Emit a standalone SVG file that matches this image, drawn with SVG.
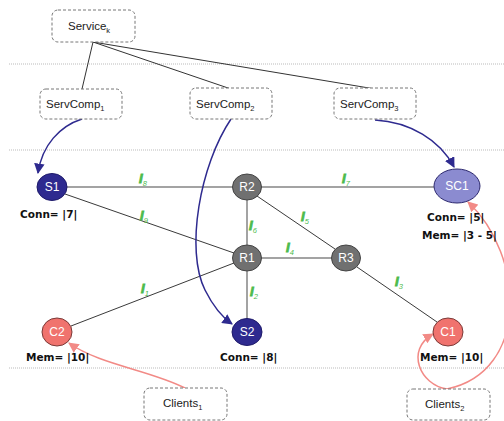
<svg xmlns="http://www.w3.org/2000/svg" width="504" height="421" viewBox="0 0 504 421">
<style>
.box{fill:#fff;stroke:#777;stroke-width:1;stroke-dasharray:3,2}
.bt{font-family:"Liberation Sans",Arial,sans-serif;font-size:11.5px;fill:#222}
.sub{font-size:7.5px}
.div{stroke:#bbb;stroke-width:1;stroke-dasharray:1,1}
.thick{stroke:#a3a3a3;stroke-width:2;fill:none}
.thin{stroke:#3a3a3a;stroke-width:1;fill:none}
.tree{stroke:#333;stroke-width:1;fill:none}
.blue{stroke:#2e2a8f;stroke-width:1.5;fill:none}
.pink{stroke:#f28a86;stroke-width:1.5;fill:none}
.nt{font-family:"Liberation Sans",Arial,sans-serif;font-size:12px;fill:#fff;text-anchor:middle}
.lab{font-family:"DejaVu Sans",Verdana,sans-serif;font-size:10.5px;font-weight:bold;fill:#111}
.ll{font-family:"Liberation Sans",Arial,sans-serif;font-size:13px;font-weight:bold;font-style:italic;fill:#4cbb4c;stroke:#4cbb4c;stroke-width:0.9}
.ls{font-size:7.5px;font-weight:normal;stroke:none}
</style>
<defs>
<marker id="ab" viewBox="0 0 10 10" refX="9" refY="5" markerWidth="7" markerHeight="7" orient="auto"><path d="M0,0L10,5L0,10z" fill="#2e2a8f"/></marker>
<marker id="ap" viewBox="0 0 10 10" refX="9" refY="5" markerWidth="7" markerHeight="7" orient="auto"><path d="M0,0L10,5L0,10z" fill="#f28a86"/></marker>
</defs>
<g id="dividers">
<line class="div" x1="9" y1="64" x2="504" y2="64"/>
<line class="div" x1="9" y1="150" x2="504" y2="150"/>
<line class="div" x1="9" y1="368" x2="504" y2="368"/>
</g>
<g id="connectors">
<line class="tree" x1="93" y1="42" x2="82" y2="89"/>
<line class="tree" x1="93" y1="42" x2="231" y2="89"/>
<line class="tree" x1="93" y1="42" x2="375" y2="89"/>
<line class="thick" x1="67" y1="187" x2="233" y2="187"/>
<line class="thick" x1="261" y1="187" x2="434" y2="187"/>
<line class="thick" x1="247" y1="200" x2="247" y2="245"/>
<line class="thick" x1="261" y1="258" x2="332" y2="258"/>
<line class="thick" x1="247" y1="271" x2="247" y2="319"/>
<line class="thin" x1="65" y1="194" x2="234" y2="253"/>
<line class="thin" x1="257" y1="196" x2="335" y2="249"/>
<line class="thin" x1="234" y1="263" x2="71" y2="326"/>
<line class="thin" x1="357" y1="267" x2="437" y2="322"/>
<path class="blue" d="M82,119 C60,126 42,145 38,173" marker-end="url(#ab)"/>
<path class="blue" d="M231,119 C200,165 185,250 205,290 C213,306 222,317 232,324" marker-end="url(#ab)"/>
<path class="blue" d="M375,120 C410,122 440,140 454,167" marker-end="url(#ab)"/>
<path class="pink" d="M185,388 C150,370 100,365 69,343" marker-end="url(#ap)"/>
<path class="pink" d="M447,389 C420,385 405,350 433,334" marker-end="url(#ap)"/>
<path class="pink" d="M447,389 C530,372 525,255 468,202" marker-end="url(#ap)"/>
</g>
<g id="links-labels">
<text class="ll" x="139" y="183">l<tspan class="ls" dy="3">8</tspan></text>
<text class="ll" x="140" y="220">l<tspan class="ls" dy="3">9</tspan></text>
<text class="ll" x="249" y="230">l<tspan class="ls" dy="3">6</tspan></text>
<text class="ll" x="342" y="183">l<tspan class="ls" dy="3">7</tspan></text>
<text class="ll" x="301" y="221">l<tspan class="ls" dy="3">5</tspan></text>
<text class="ll" x="286" y="252">l<tspan class="ls" dy="3">4</tspan></text>
<text class="ll" x="395" y="286">l<tspan class="ls" dy="3">3</tspan></text>
<text class="ll" x="141" y="293">l<tspan class="ls" dy="3">1</tspan></text>
<text class="ll" x="250" y="296">l<tspan class="ls" dy="3">2</tspan></text>
</g>
<g id="service-k"><rect class="box" x="52" y="10" width="83" height="32" rx="6"/><text class="bt" x="68" y="30">Service<tspan class="sub" dy="3">k</tspan></text></g>
<g id="servcomp1"><rect class="box" x="40" y="89" width="82" height="30" rx="6"/><text class="bt" x="46" y="108">ServComp<tspan class="sub" dy="3">1</tspan></text></g>
<g id="servcomp2"><rect class="box" x="190" y="88" width="82" height="31" rx="6"/><text class="bt" x="196" y="108">ServComp<tspan class="sub" dy="3">2</tspan></text></g>
<g id="servcomp3"><rect class="box" x="334" y="88" width="82" height="31" rx="6"/><text class="bt" x="340" y="108">ServComp<tspan class="sub" dy="3">3</tspan></text></g>
<g id="S1"><ellipse cx="52" cy="187" rx="15" ry="13.5" fill="#2e2a8f" stroke="#1e1a6a"/><text class="nt" x="52" y="191">S1</text><text class="lab" x="20" y="218">Conn= |7|</text></g>
<g id="R2"><ellipse cx="247" cy="187" rx="14.5" ry="13" fill="#707070" stroke="#444"/><text class="nt" x="247" y="191">R2</text></g>
<g id="SC1"><ellipse cx="457" cy="186" rx="23" ry="17" fill="#8b8bd0" stroke="#2e2a6f"/><text class="nt" x="457" y="190">SC1</text><text class="lab" x="427" y="221">Conn= |5|</text><text class="lab" x="422" y="239">Mem= |3 - 5|</text></g>
<g id="R1"><ellipse cx="247" cy="258" rx="14.5" ry="13" fill="#707070" stroke="#444"/><text class="nt" x="247" y="262">R1</text></g>
<g id="R3"><ellipse cx="346" cy="258" rx="14.5" ry="13" fill="#707070" stroke="#444"/><text class="nt" x="346" y="262">R3</text></g>
<g id="C2"><ellipse cx="57" cy="332" rx="15" ry="14" fill="#f0736e" stroke="#7a3a38"/><text class="nt" x="57" y="336">C2</text><text class="lab" x="26" y="361">Mem= |10|</text></g>
<g id="S2"><ellipse cx="247" cy="332" rx="15" ry="13.5" fill="#2e2a8f" stroke="#1e1a6a"/><text class="nt" x="247" y="336">S2</text><text class="lab" x="220" y="361">Conn= |8|</text></g>
<g id="C1"><ellipse cx="448" cy="332" rx="15" ry="14" fill="#f0736e" stroke="#7a3a38"/><text class="nt" x="448" y="336">C1</text><text class="lab" x="420" y="361">Mem= |10|</text></g>
<g id="clients1"><rect class="box" x="144" y="388" width="83" height="32" rx="6"/><text class="bt" x="163" y="407">Clients<tspan class="sub" dy="3">1</tspan></text></g>
<g id="clients2"><rect class="box" x="407" y="389" width="83" height="31" rx="6"/><text class="bt" x="425" y="408">Clients<tspan class="sub" dy="3">2</tspan></text></g>
</svg>
